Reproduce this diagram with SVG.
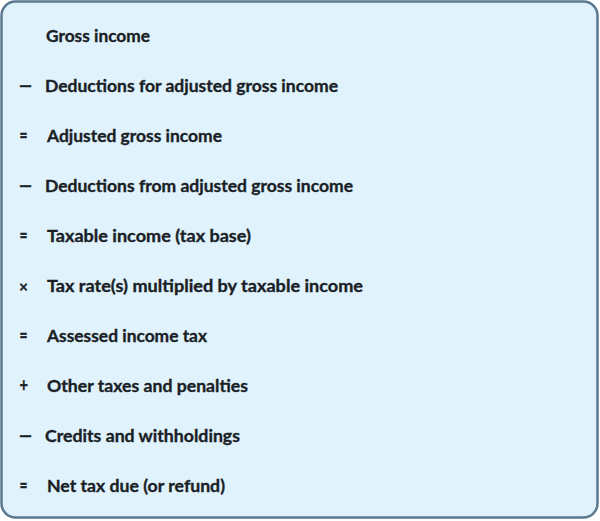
<svg xmlns="http://www.w3.org/2000/svg" width="600" height="521" viewBox="0 0 600 521">
<style>
.t{font-family:Lato,"Liberation Sans",sans-serif;font-weight:bold;font-size:17.5px;fill:#1a1f26;stroke:#1a1f26;stroke-width:0.35px}
.s{font-family:Lato,"Liberation Sans",sans-serif;font-weight:bold;font-size:18px;fill:#1a1f26;stroke:#1a1f26;stroke-width:0.35px}
.x{font-family:"DejaVu Sans",sans-serif;font-weight:bold;font-size:12px;fill:#1a1f26;stroke:#1a1f26;stroke-width:0.4px}
</style>
<g id="panel"><rect x="1.5" y="1.5" width="596" height="516" rx="14" ry="14" fill="#e0f2fc" stroke="#5b7890" stroke-width="2.5"/></g>
<g id="line1"><text class="t" x="46" y="42" textLength="104" lengthAdjust="spacingAndGlyphs">Gross income</text></g>
<g id="line2"><text class="s" x="19" y="92" textLength="13" lengthAdjust="spacingAndGlyphs">—</text><text class="t" x="45" y="92" textLength="293" lengthAdjust="spacingAndGlyphs">Deductions for adjusted gross income</text></g>
<g id="line3"><text class="s" x="19.5" y="142" textLength="8" lengthAdjust="spacingAndGlyphs">=</text><text class="t" x="47" y="142" textLength="175" lengthAdjust="spacingAndGlyphs">Adjusted gross income</text></g>
<g id="line4"><text class="s" x="19" y="192" textLength="13" lengthAdjust="spacingAndGlyphs">—</text><text class="t" x="45" y="192" textLength="308" lengthAdjust="spacingAndGlyphs">Deductions from adjusted gross income</text></g>
<g id="line5"><text class="s" x="19.5" y="242" textLength="8" lengthAdjust="spacingAndGlyphs">=</text><text class="t" x="47" y="242" textLength="204" lengthAdjust="spacingAndGlyphs">Taxable income (tax base)</text></g>
<g id="line6"><text class="x" x="18.5" y="291">×</text><text class="t" x="47" y="292" textLength="316" lengthAdjust="spacingAndGlyphs">Tax rate(s) multiplied by taxable income</text></g>
<g id="line7"><text class="s" x="19.5" y="342" textLength="8" lengthAdjust="spacingAndGlyphs">=</text><text class="t" x="47" y="342" textLength="160" lengthAdjust="spacingAndGlyphs">Assessed income tax</text></g>
<g id="line8"><text class="s" x="19.5" y="392" textLength="8.5" lengthAdjust="spacingAndGlyphs">+</text><text class="t" x="47" y="392" textLength="201" lengthAdjust="spacingAndGlyphs">Other taxes and penalties</text></g>
<g id="line9"><text class="s" x="19" y="442" textLength="13" lengthAdjust="spacingAndGlyphs">—</text><text class="t" x="45" y="442" textLength="195" lengthAdjust="spacingAndGlyphs">Credits and withholdings</text></g>
<g id="line10"><text class="s" x="19.5" y="492" textLength="8" lengthAdjust="spacingAndGlyphs">=</text><text class="t" x="47" y="492" textLength="178" lengthAdjust="spacingAndGlyphs">Net tax due (or refund)</text></g>
</svg>
